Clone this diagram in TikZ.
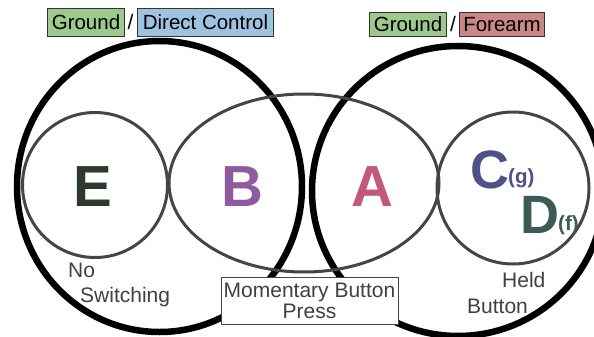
\documentclass[tikz,border=0pt]{standalone}
\usepackage{fontspec}
\setmainfont{Liberation Sans}
\definecolor{colE}{HTML}{2B3A2D}
\definecolor{colB}{HTML}{8F5A9E}
\definecolor{colA}{HTML}{C3587B}
\definecolor{colC}{HTML}{4F5087}
\definecolor{colD}{HTML}{3B5B56}
\definecolor{grn}{HTML}{9DC98D}
\definecolor{blu}{HTML}{9FC2E0}
\definecolor{redb}{HTML}{C98886}
\definecolor{boxline}{HTML}{333333}
\definecolor{ringgray}{HTML}{454545}
\definecolor{txtgray}{HTML}{404040}
\begin{document}
\begin{tikzpicture}[x=1pt,y=-1pt,
  bigring/.style={draw=black, line width=6.5pt},
  ring/.style={draw=ringgray, line width=3pt},
  lbl/.style={font=\fontsize{21}{24}\selectfont, text=txtgray, inner sep=0pt, anchor=base west},
  tag/.style={draw=boxline, line width=1.3pt, inner sep=0pt, font=\fontsize{20.5}{24}\selectfont, text=black},
  bigletter/.style={font=\fontsize{58}{60}\selectfont\bfseries, inner sep=0pt, anchor=base},
  midletter/.style={font=\fontsize{54}{56}\selectfont\bfseries, inner sep=0pt, anchor=base},
  subtext/.style={font=\fontsize{20.5}{24}\selectfont\bfseries, inner sep=0pt, anchor=base west},
  pressbox/.style={draw=ringgray, line width=1.2pt, fill=white, minimum width=177pt, minimum height=47pt, inner sep=0pt}
]
\useasboundingbox (0,0) rectangle (594,337);
% big rings
\draw[bigring] (159.5,186.5) ellipse [x radius=142.5pt, y radius=145.5pt];
\draw[bigring] (458,191) ellipse [x radius=146pt, y radius=145pt];
% inner rings
\draw[ring] (95,185) circle [radius=72.5pt];
\draw[ring] (304,183) ellipse [x radius=135pt, y radius=89pt];
\draw[ring] (513,188) circle [radius=76pt];
% tags
\node[tag, fill=grn, minimum width=77pt, minimum height=28pt] (g1) at (86,22.5) {Ground};
\node[lbl, text=black, anchor=base] (s1) at (130.5,30) {/};
\node[tag, fill=blu, minimum width=136pt, minimum height=28pt] (dc) at (205.5,22.5) {Direct Control};
\node[tag, fill=grn, minimum width=77pt, minimum height=24pt] (g2) at (408,24.5) {Ground};
\node[lbl, text=black, anchor=base] (s2) at (453,32) {/};
\node[tag, fill=redb, minimum width=85pt, minimum height=24pt] (fa) at (502,24.5) {Forearm};
% letters
\node[bigletter, text=colE] (E) at (93,206) {E};
\node[bigletter, text=colB] (B) at (242,206) {B};
\node[bigletter, text=colA] (A) at (372,206) {A};
\node[midletter, text=colC] (C) at (490,188) {C};
\node[subtext, text=colC] (g) at (508,183) {(g)};
\node[midletter, text=colD] (D) at (539.5,233) {D};
\node[subtext, text=colD] (f) at (558,230) {(f)};
% labels
\node[lbl] (no) at (68,277) {No};
\node[lbl] (sw) at (80,302.5) {Switching};
\node[lbl] (held) at (502,287) {Held};
\node[lbl] (btn) at (467,313) {Button};
% momentary box
\node[pressbox] (mbp) at (310,301) {};
\node[lbl, anchor=base] (m1) at (309.5,297) {Momentary Button};
\node[lbl, anchor=base] (m2) at (309.5,318.5) {Press};
\end{tikzpicture}
\end{document}
